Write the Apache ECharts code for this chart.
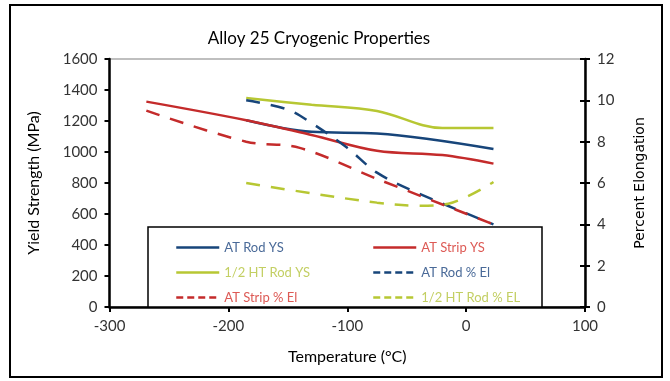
<!DOCTYPE html>
<html>
<head>
<meta charset="utf-8">
<script src="https://cdn.jsdelivr.net/npm/echarts@6/dist/echarts.min.js"></script>
<style>
  html, body { margin: 0; padding: 0; background: #fff; }
  #chart { width: 670px; height: 381px; }
</style>
</head>
<body>
<div id="chart"></div>
<script>
// valeurs (temperature en degC)
const atRodYsT = [-185, -130, -75, 23];
const atRodYs = [1205, 1130, 1120, 1020];
const atStripYsT = [-269, -185, -130, -75, -20, 23];
const atStripYs = [1325, 1205, 1110, 1008, 980, 925];
const htRodYsT = [-185, -130, -75, -20, 23];
const htRodYs = [1348, 1305, 1265, 1155, 1155];
const atRodElT = [-185, -150, -130, -100, -75, -40, 23];
const atRodEl = [10.0, 9.55, 8.9, 7.7, 6.5, 5.5, 4.0];
const atStripElT = [-269, -185, -140, -75, 23];
const atStripEl = [9.5, 8.0, 7.7, 6.2, 4.0];
const htRodElT = [-185, -130, -75, -40, -15, 23];
const htRodEl = [6.0, 5.5, 5.05, 4.9, 5.0, 6.05];

const BLUE = "#17457a";
const RED = "#c42b2b";
const YELLOW = "#b7c733";
const FONT = "Lato";

const zip = (xs, ys) => xs.map((x, i) => [x, ys[i]]);

function line(name, xs, ys, color, dashed, axis) {
  return {
    name,
    type: "line",
    yAxisIndex: axis,
    data: zip(xs, ys),
    smooth: 0.35,
    symbol: "none",
    lineStyle: { color, width: 2.5, type: dashed ? [14, 11] : "solid" },
    itemStyle: { color }
  };
}

const chart = echarts.init(document.getElementById("chart"));

const legendItem = (name, color, dashed) => ({
  name,
  textStyle: { color },
  lineStyle: { width: 2.5, type: dashed ? [7, 4] : "solid" }
});

const legendBase = {
  orient: "vertical", top: 236, itemWidth: 43, itemHeight: 14, itemGap: 12,
  itemStyle: { opacity: 0 },
  textStyle: { fontFamily: FONT, fontSize: 13 }
};

chart.setOption({
  animation: false,
  backgroundColor: "#fff",
  title: {
    text: "Alloy 25 Cryogenic Properties",
    left: 314,
    textAlign: "center",
    top: 25,
    textStyle: { fontFamily: FONT, fontSize: 17, fontWeight: "normal", color: "#000" }
  },
  graphic: [
    { type: "rect", z: 0, shape: { x: 10, y: 5, width: 652, height: 372 },
      style: { fill: "none", stroke: "#000", lineWidth: 2 } },
    { type: "rect", z: 3, shape: { x: 148, y: 227, width: 394, height: 80 },
      style: { fill: "#fff", stroke: "#000", lineWidth: 1.5 } }
  ],
  legend: [
    Object.assign({}, legendBase, {
      left: 170,
      data: [legendItem("AT Rod YS", "#4a6a98", false), legendItem("1/2 HT Rod YS", "#c3cf63", false),
             legendItem("AT Strip % El", "#dd5a55", true)]
    }),
    Object.assign({}, legendBase, {
      left: 367,
      data: [legendItem("AT Strip YS", "#dd5a55", false), legendItem("AT Rod % El", "#4a6a98", true),
             legendItem("1/2 HT Rod % EL", "#c3cf63", true)]
    })
  ],
  grid: { left: 109.5, right: 85, top: 59, bottom: 74, show: true, borderColor: "#aaaaaa", borderWidth: 1.5 },
  xAxis: {
    type: "value", min: -300, max: 100, interval: 100,
    name: "Temperature (°C)", nameLocation: "middle", nameGap: 42,
    nameTextStyle: { fontFamily: FONT, fontSize: 16, color: "#000" },
    axisLine: { onZero: false, lineStyle: { color: "#000", width: 2.5 } },
    axisTick: { length: 5, lineStyle: { color: "#000", width: 2 } },
    axisLabel: { fontFamily: FONT, fontSize: 15, color: "#333", margin: 12 },
    splitLine: { show: false }
  },
  yAxis: [
    {
      type: "value", min: 0, max: 1600, interval: 200, position: "left",
      name: "Yield Strength (MPa)", nameLocation: "middle", nameGap: 68,
      nameTextStyle: { fontFamily: FONT, fontSize: 16, color: "#000" },
      axisLine: { show: true, onZero: false, lineStyle: { color: "#000", width: 2.5 } },
      axisTick: { show: true, length: 5, lineStyle: { color: "#000", width: 2 } },
      axisLabel: { fontFamily: FONT, fontSize: 15, color: "#333", margin: 12, formatter: (v) => String(v) },
      splitLine: { show: false }
    },
    {
      type: "value", min: 0, max: 12, interval: 2, position: "right",
      name: "Percent Elongation", nameLocation: "middle", nameGap: 48,
      nameTextStyle: { fontFamily: "DejaVu Sans", fontSize: 14, color: "#000" },
      axisLine: { show: true, onZero: false, lineStyle: { color: "#000", width: 2.5 } },
      axisTick: { show: true, length: 5, lineStyle: { color: "#000", width: 2 } },
      axisLabel: { fontFamily: FONT, fontSize: 15, color: "#333", margin: 12 },
      splitLine: { show: false }
    },
    {
      // ticks interieurs de l'axe droit (ticks traversants)
      type: "value", min: 0, max: 12, interval: 2, position: "right",
      axisLine: { show: false, onZero: false },
      axisTick: { show: true, inside: true, length: 5, lineStyle: { color: "#000", width: 2 } },
      axisLabel: { show: false },
      splitLine: { show: false }
    }
  ],
  series: [
    line("AT Rod YS", atRodYsT, atRodYs, BLUE, false, 0),
    line("AT Strip YS", atStripYsT, atStripYs, RED, false, 0),
    line("1/2 HT Rod YS", htRodYsT, htRodYs, YELLOW, false, 0),
    line("AT Rod % El", atRodElT, atRodEl, BLUE, true, 1),
    line("AT Strip % El", atStripElT, atStripEl, RED, true, 1),
    line("1/2 HT Rod % EL", htRodElT, htRodEl, YELLOW, true, 1)
  ]
});
</script>
</body>
</html>
